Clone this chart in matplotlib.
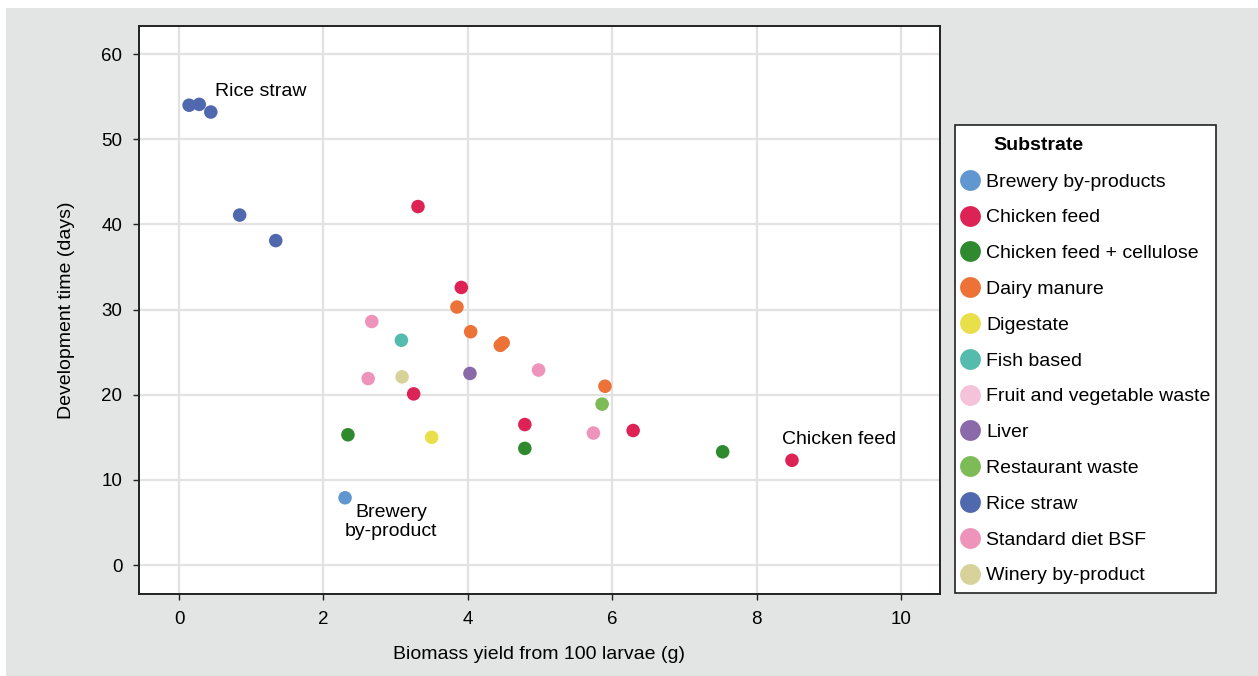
import matplotlib
matplotlib.use("Agg")
import matplotlib.pyplot as plt
from matplotlib.lines import Line2D
from matplotlib.patches import Rectangle

plt.rcParams['font.family'] = ['Liberation Sans', 'DejaVu Sans']

substrates = ["Brewery by-products", "Chicken feed", "Chicken feed + cellulose",
              "Dairy manure", "Digestate", "Fish based", "Fruit and vegetable waste",
              "Liver", "Restaurant waste", "Rice straw", "Standard diet BSF",
              "Winery by-product"]
colors = ["#6097d0", "#dd2355", "#2f8a2f", "#ec7238", "#e8df4a", "#54bbad",
          "#f4c3da", "#8a6aa8", "#7cbb56", "#5069ae", "#ee93ba", "#d6d29a"]

# biomass yield (g per 100 larvae) and development time (days) per substrate
yield_g = {
    "Brewery by-products": [2.30],
    "Chicken feed": [3.31, 3.91, 3.25, 4.79, 6.29, 8.49],
    "Chicken feed + cellulose": [2.34, 4.79, 7.53],
    "Dairy manure": [3.85, 4.04, 4.45, 4.49, 5.90],
    "Digestate": [3.50],
    "Fish based": [3.08],
    "Fruit and vegetable waste": [],
    "Liver": [4.03],
    "Restaurant waste": [5.86],
    "Rice straw": [0.14, 0.28, 0.44, 0.84, 1.34],
    "Standard diet BSF": [2.67, 2.62, 4.98, 5.74],
    "Winery by-product": [3.09],
}
dev_days = {
    "Brewery by-products": [7.9],
    "Chicken feed": [42.1, 32.6, 20.1, 16.5, 15.8, 12.3],
    "Chicken feed + cellulose": [15.3, 13.7, 13.3],
    "Dairy manure": [30.3, 27.4, 25.8, 26.1, 21.0],
    "Digestate": [15.0],
    "Fish based": [26.4],
    "Fruit and vegetable waste": [],
    "Liver": [22.5],
    "Restaurant waste": [18.9],
    "Rice straw": [54.0, 54.1, 53.2, 41.1, 38.1],
    "Standard diet BSF": [28.6, 21.9, 22.9, 15.5],
    "Winery by-product": [22.1],
}

W, H = 1258, 676
fig = plt.figure(figsize=(W / 100, H / 100), dpi=100)
fig.patch.set_facecolor("white")
fig.patches.append(Rectangle((6 / W, 0), 1, 1 - 8 / H, transform=fig.transFigure,
                             facecolor="#e3e4e4", edgecolor="none", zorder=-10))

ax = fig.add_axes([0.1105, 0.1213, 0.6367, 0.8402])
ax.set_facecolor("white")

for name, c in zip(substrates, colors):
    ax.scatter(yield_g[name], dev_days[name], s=95, color=c, edgecolors="none", zorder=3)

ax.set_xlim(-0.554, 10.54)
ax.set_ylim(-3.4, 63.3)
ax.set_xticks(range(0, 11, 2))
ax.set_yticks(range(0, 61, 10))
ax.grid(True, color="#e2e2e2", linewidth=1.6, zorder=0)
ax.set_axisbelow(True)
for sp in ax.spines.values():
    sp.set_color("#222222")
    sp.set_linewidth(1.4)
ax.tick_params(axis="both", labelsize=13.5, length=4, width=1, color="#222222", pad=8)
ax.tick_params(top=False, right=False)

ax.set_xlabel("Biomass yield from 100 larvae (g)", fontsize=14, labelpad=13)
ax.set_ylabel("Development time (days)", fontsize=14, labelpad=19)

ax.text(0.50, 55.6, "Rice straw", fontsize=14, ha="left", va="center")
ax.text(8.35, 14.8, "Chicken feed", fontsize=14, ha="left", va="center")
ax.text(2.94, 5.05, "Brewery\nby-product", fontsize=14, ha="center", va="center",
        linespacing=1.15)

# legend box with a left-set title, entries drawn by a frameless legend
fig.patches.append(Rectangle((955 / W, 1 - 593 / H), (1216 - 955) / W, (593 - 125) / H,
                             transform=fig.transFigure, facecolor="white",
                             edgecolor="#222222", linewidth=1.2, zorder=5))
fig.text(993 / W, 1 - 145 / H, "Substrate", fontsize=14, fontweight="bold",
         ha="left", va="center", zorder=6)

handles = [Line2D([], [], marker="o", linestyle="none", markersize=15,
                  markerfacecolor=c, markeredgecolor="none") for c in colors]
leg = fig.legend(handles, substrates, loc="upper left",
                 bbox_to_anchor=(959 / W, 1 - 173 / H), fontsize=14,
                 frameon=False, handletextpad=0.3, handlelength=1.1,
                 borderpad=0, labelspacing=0.935, borderaxespad=0)
leg.set_zorder(7)

fig.savefig("out.png", dpi=100)
